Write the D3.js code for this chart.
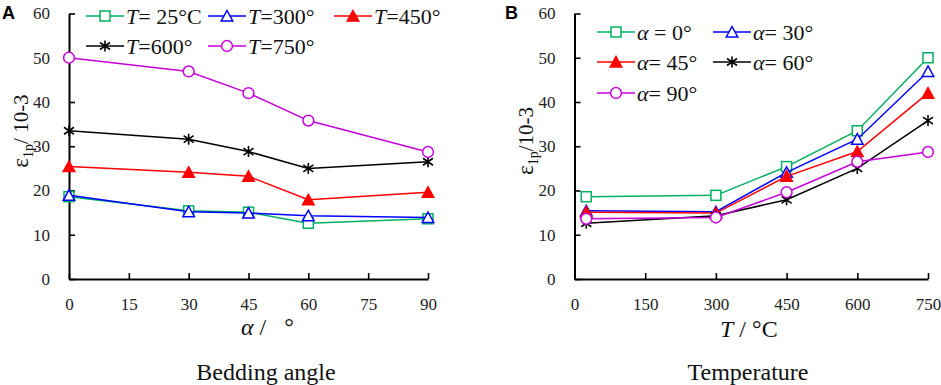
<!DOCTYPE html>
<html>
<head>
<meta charset="utf-8">
<script src="https://cdn.jsdelivr.net/npm/d3@7"></script>
<style>
  body { margin: 0; background: #fff; }
  svg { display: block; }
</style>
</head>
<body>
<div id="chart"></div>
<script>
// bedding angles (deg) and temperatures (°C)
const angles = [0, 30, 45, 60, 90];
const temps = [25, 300, 450, 600, 750];

// plastic strain eps_1p (10^-3), one array per temperature, indexed by angle
const strainT25 = [18.6, 15.4, 15.1, 12.6, 13.6];
const strainT300 = [18.9, 15.2, 14.9, 14.3, 13.9];
const strainT450 = [25.4, 24.1, 23.2, 17.9, 19.6];
const strainT600 = [33.5, 31.6, 28.8, 25.0, 26.5];
const strainT750 = [50.0, 46.9, 42.0, 35.8, 28.7];

const labelsA = [["T", "= 25°C"], ["T", "=300°"], ["T", "=450°"], ["T", "=600°"], ["T", "=750°"]];
const labelsB = [["α", " = 0°"], ["α", "= 30°"], ["α", "= 45°"], ["α", "= 60°"], ["α", "= 90°"]];

const yTicks = [0, 10, 20, 30, 40, 50, 60];
const xTicksA = [0, 15, 30, 45, 60, 75, 90];
const xTicksB = [0, 150, 300, 450, 600, 750];

const colors = ["#00b060", "#0000ff", "#ff0000", "#000000", "#c800dc"];
const markers = ["square", "triangle", "triangleFilled", "asterisk", "circle"];

const byTemp = [strainT25, strainT300, strainT450, strainT600, strainT750];
// panel A: one series per temperature, x = angle
const seriesA = byTemp.map(vals => angles.map((a, i) => ({ x: a, y: vals[i] })));
// panel B: one series per angle, x = temperature
const seriesB = angles.map((a, j) => temps.map((t, i) => ({ x: t, y: byTemp[i][j] })));

const serif = "Liberation Serif, Times New Roman, serif";

const svg = d3.select("#chart").append("svg")
    .attr("width", 941)
    .attr("height", 385);
svg.append("rect").attr("width", 941).attr("height", 385).attr("fill", "#fff");

function drawMarker(g, type, color, x, y) {
    if (type === "square") {
        g.append("rect")
            .attr("x", x - 5).attr("y", y - 5)
            .attr("width", 10).attr("height", 10)
            .attr("fill", "#fff").attr("stroke", color).attr("stroke-width", 1.5);
    } else if (type === "triangle" || type === "triangleFilled") {
        const h = 10, w = 11.5;
        g.append("path")
            .attr("d", `M${x},${y - h / 2 - 0.5}L${x + w / 2},${y + h / 2}L${x - w / 2},${y + h / 2}Z`)
            .attr("fill", type === "triangle" ? "#fff" : color)
            .attr("stroke", color).attr("stroke-width", 1.5);
    } else if (type === "circle") {
        g.append("circle")
            .attr("cx", x).attr("cy", y).attr("r", 5.4)
            .attr("fill", "#fff").attr("stroke", color).attr("stroke-width", 1.5);
    } else if (type === "asterisk") {
        g.append("path")
            .attr("d", `M${x},${y - 5.5}V${y + 5.5}M${x - 5},${y - 3.5}L${x + 5},${y + 3.5}M${x - 5},${y + 3.5}L${x + 5},${y - 3.5}`)
            .attr("fill", "none").attr("stroke", color).attr("stroke-width", 1.6);
    }
}

function drawPanel(cfg) {
    const g = svg.append("g");
    const x = d3.scaleLinear().domain(cfg.xDomain).range(cfg.xRange);
    const y = d3.scaleLinear().domain([0, 60]).range([279, 13.5]);

    // axes with inward ticks
    const xAxis = g.append("g")
        .attr("transform", `translate(0,${y(0)})`)
        .call(d3.axisBottom(x).tickValues(cfg.xTicks).tickSizeInner(-6).tickSizeOuter(0).tickPadding(19));
    const yAxis = g.append("g")
        .attr("transform", `translate(${x(0)},0)`)
        .call(d3.axisLeft(y).tickValues(yTicks).tickSizeInner(-6).tickSizeOuter(0).tickPadding(19));
    [xAxis, yAxis].forEach(ax => {
        ax.attr("font-family", serif).attr("font-size", 17);
        ax.select(".domain").attr("stroke", "#000").attr("stroke-width", 2);
        ax.selectAll(".tick line").attr("stroke", "#000").attr("stroke-width", 1.6);
        ax.selectAll(".tick text").attr("fill", "#222")
            .attr("font-family", serif).attr("font-size", 17);
    });

    // data
    const line = d3.line().x(d => x(d.x)).y(d => y(d.y));
    cfg.series.forEach((s, k) => {
        g.append("path")
            .datum(s)
            .attr("d", line)
            .attr("fill", "none")
            .attr("stroke", colors[k])
            .attr("stroke-width", 1.5);
        s.forEach(d => drawMarker(g, markers[k], colors[k], x(d.x), y(d.y)));
    });

    // legend
    const lg = g.append("g");
    cfg.labels.forEach((lab, k) => {
        const lx = cfg.legendCols[k % cfg.legendCols.length];
        const ly = cfg.legendRows[Math.floor(k / cfg.legendCols.length)];
        lg.append("line")
            .attr("x1", lx).attr("x2", lx + 38)
            .attr("y1", ly).attr("y2", ly)
            .attr("stroke", colors[k]).attr("stroke-width", 1.5);
        drawMarker(lg, markers[k], colors[k], lx + 19, ly);
        const t = lg.append("text")
            .attr("x", lx + 40).attr("y", ly + 8)
            .attr("font-family", serif).attr("font-size", 22)
            .attr("fill", "#111");
        t.append("tspan").attr("font-style", "italic").text(lab[0]);
        t.append("tspan").text(lab[1]);
    });

    // y label
    const yl = g.append("text")
        .attr("transform", `translate(${cfg.yLabelPos[0]},${cfg.yLabelPos[1]}) rotate(-90)`)
        .attr("text-anchor", "middle")
        .attr("font-family", serif).attr("font-size", 21)
        .attr("fill", "#111");
    yl.append("tspan").attr("font-size", 23).text("ε");
    yl.append("tspan").attr("dy", 5).attr("font-size", 14).text("1p");
    yl.append("tspan").attr("dy", -5).text(cfg.yLabelTail);

    // x label
    const xl = g.append("text")
        .attr("x", cfg.xLabelPos[0]).attr("y", cfg.xLabelPos[1])
        .attr("font-family", serif).attr("font-size", 24)
        .attr("fill", "#111");
    xl.append("tspan").attr("font-style", "italic").text(cfg.xLabel[0]);
    xl.append("tspan").attr("xml:space", "preserve").text(cfg.xLabel[1]);

    // caption
    g.append("text")
        .attr("x", cfg.captionX).attr("y", 380)
        .attr("text-anchor", "middle")
        .attr("font-family", serif).attr("font-size", 24)
        .attr("fill", "#111")
        .text(cfg.caption);

    // panel letter
    g.append("text")
        .attr("x", cfg.letterX).attr("y", 19)
        .attr("font-family", "Liberation Sans, Arial, sans-serif")
        .attr("font-size", 18).attr("font-weight", "bold")
        .text(cfg.letter);
}

drawPanel({
    series: seriesA,
    labels: labelsA,
    xDomain: [0, 90],
    xRange: [69, 428],
    xTicks: xTicksA,
    legendCols: [86, 208, 334],
    legendRows: [16, 46],
    yLabelPos: [28, 131],
    yLabelTail: "/ 10-3",
    xLabel: ["α", " /   °"],
    xLabelPos: [241, 335],
    caption: "Bedding angle",
    captionX: 266,
    letter: "A",
    letterX: 2
});

drawPanel({
    series: seriesB,
    labels: labelsB,
    xDomain: [0, 750],
    xRange: [574.5, 928],
    xTicks: xTicksB,
    legendCols: [597, 713],
    legendRows: [32, 62, 93],
    yLabelPos: [533, 141],
    yLabelTail: "/10-3",
    xLabel: ["T", " / °C"],
    xLabelPos: [720, 337],
    caption: "Temperature",
    captionX: 748,
    letter: "B",
    letterX: 505
});
</script>
</body>
</html>
